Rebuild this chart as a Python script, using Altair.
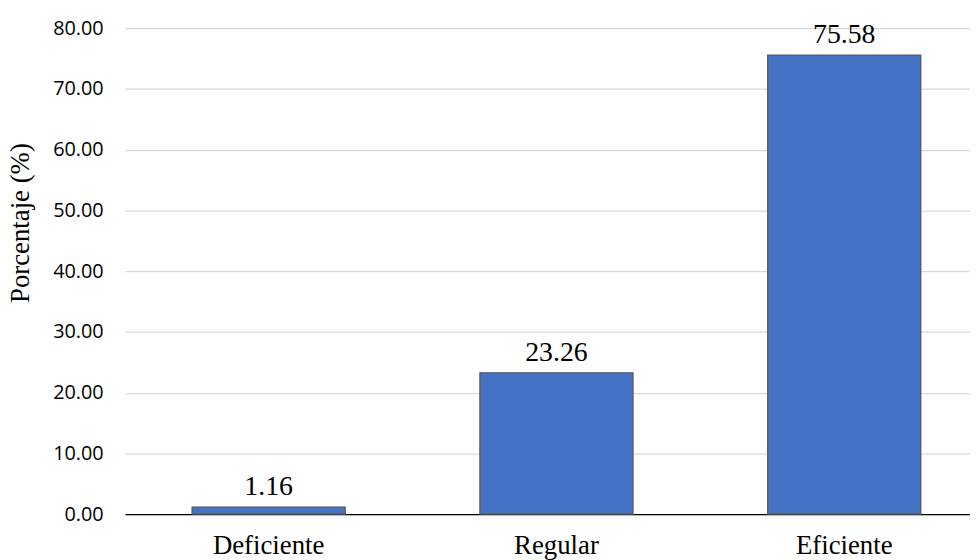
import altair as alt
import pandas as pd

categories = ["Deficiente", "Regular", "Eficiente"]
values = [1.16, 23.26, 75.58]
y_ticks = [0, 10, 20, 30, 40, 50, 60, 70, 80]

df = pd.DataFrame({"cat": categories, "val": values})

x = alt.X("cat:N", sort=categories, title=None,
          scale=alt.Scale(paddingInner=0.468, paddingOuter=0.233),
          axis=alt.Axis(labelAngle=0, labelFont="Liberation Serif", labelFontSize=27,
                        labelColor="#000000", labelPadding=19, ticks=False,
                        domainColor="#000000", domainWidth=1.3, grid=False))
y = alt.Y("val:Q", title="Porcentaje (%)",
          scale=alt.Scale(domain=[0, 80], nice=False),
          axis=alt.Axis(values=y_ticks, format=".2f", labelFont="Open Sans", labelFontSize=20,
                        labelColor="#000000", labelPadding=22, ticks=False, domain=False,
                        gridColor="#d9d9d9", gridWidth=1.3,
                        titleFont="Liberation Serif", titleFontSize=27, titleFontWeight="normal",
                        titleColor="#000000", titleX=-91, titleY=196, titleAngle=-90))

bars = alt.Chart(df).mark_bar(color="#4472c4", stroke="#595959", strokeWidth=1.3).encode(x=x, y=y)
labels = alt.Chart(df).mark_text(font="Liberation Serif", fontSize=28, color="#000000",
                                 baseline="alphabetic", dy=-12).encode(
    x=alt.X("cat:N", sort=categories), y="val:Q", text=alt.Text("val:Q", format=".2f"))

chart = (bars + labels).properties(
    width=870, height=490,
    autosize=alt.AutoSizeParams(type="none"),
    padding={"left": 118, "top": 18, "right": -18, "bottom": 60},
).configure_view(stroke=None)

chart.save("out.html", embed_options={"renderer": "svg", "actions": False})
